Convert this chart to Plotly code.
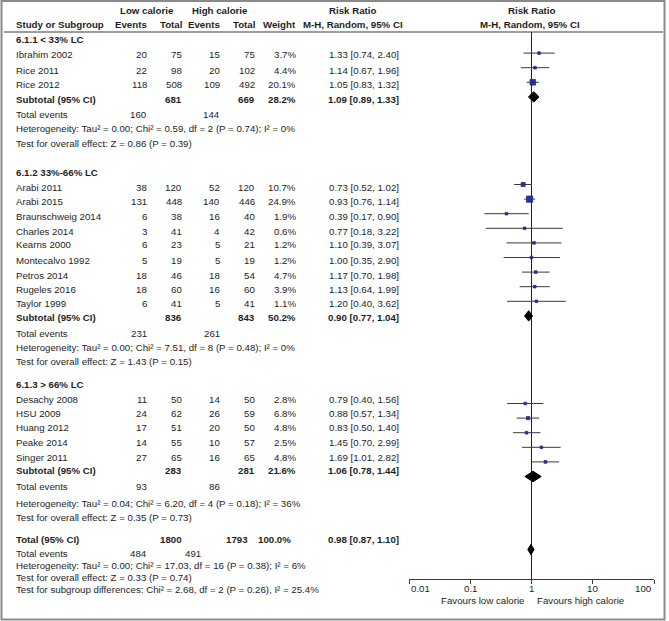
import math
import plotly.graph_objects as go

# ---------------- data ----------------
group_titles = ["6.1.1 < 33% LC", "6.1.2 33%-66% LC", "6.1.3 > 66% LC"]

g1_studies = ["Ibrahim 2002", "Rice 2011", "Rice 2012"]
g1_low_events = [20, 22, 118]
g1_low_total = [75, 98, 508]
g1_high_events = [15, 20, 109]
g1_high_total = [75, 102, 492]
g1_weight = [3.7, 4.4, 20.1]
g1_rr = [1.33, 1.14, 1.05]
g1_lo = [0.74, 0.67, 0.83]
g1_hi = [2.40, 1.96, 1.32]

g2_studies = ["Arabi 2011", "Arabi 2015", "Braunschweig 2014", "Charles 2014", "Kearns 2000",
              "Montecalvo 1992", "Petros 2014", "Rugeles 2016", "Taylor 1999"]
g2_low_events = [38, 131, 6, 3, 6, 5, 18, 18, 6]
g2_low_total = [120, 448, 38, 41, 23, 19, 46, 60, 41]
g2_high_events = [52, 140, 16, 4, 5, 5, 18, 16, 5]
g2_high_total = [120, 446, 40, 42, 21, 19, 54, 60, 41]
g2_weight = [10.7, 24.9, 1.9, 0.6, 1.2, 1.2, 4.7, 3.9, 1.1]
g2_rr = [0.73, 0.93, 0.39, 0.77, 1.10, 1.00, 1.17, 1.13, 1.20]
g2_lo = [0.52, 0.76, 0.17, 0.18, 0.39, 0.35, 0.70, 0.64, 0.40]
g2_hi = [1.02, 1.14, 0.90, 3.22, 3.07, 2.90, 1.98, 1.99, 3.62]

g3_studies = ["Desachy 2008", "HSU 2009", "Huang 2012", "Peake 2014", "Singer 2011"]
g3_low_events = [11, 24, 17, 14, 27]
g3_low_total = [50, 62, 51, 55, 65]
g3_high_events = [14, 26, 20, 10, 16]
g3_high_total = [50, 59, 50, 57, 65]
g3_weight = [2.8, 6.8, 4.8, 2.5, 4.8]
g3_rr = [0.79, 0.88, 0.83, 1.45, 1.69]
g3_lo = [0.40, 0.57, 0.50, 0.70, 1.01]
g3_hi = [1.56, 1.34, 1.40, 2.99, 2.82]

sub_low_total = [681, 836, 283]
sub_high_total = [669, 843, 281]
sub_weight = [28.2, 50.2, 21.6]
sub_rr = [1.09, 0.90, 1.06]
sub_lo = [0.89, 0.77, 0.78]
sub_hi = [1.33, 1.04, 1.44]
sub_low_events = [160, 231, 93]
sub_high_events = [144, 261, 86]
sub_het = ["Tau² = 0.00; Chi² = 0.59, df = 2 (P = 0.74); I² = 0%",
           "Tau² = 0.00; Chi² = 7.51, df = 8 (P = 0.48); I² = 0%",
           "Tau² = 0.04; Chi² = 6.20, df = 4 (P = 0.18); I² = 36%"]
sub_z = ["Z = 0.86 (P = 0.39)", "Z = 1.43 (P = 0.15)", "Z = 0.35 (P = 0.73)"]

total_low_total = 1800
total_high_total = 1793
total_weight = 100.0
total_rr, total_lo, total_hi = 0.98, 0.87, 1.10
total_low_events = 484
total_high_events = 491
total_het = "Tau² = 0.00; Chi² = 17.03, df = 16 (P = 0.38); I² = 6%"
total_z = "Z = 0.33 (P = 0.74)"
subgroup_test = "Chi² = 2.68, df = 2 (P = 0.26), I² = 25.4%"

axis_ticks = [0.01, 0.1, 1, 10, 100]
axis_tick_labels = ["0.01", "0.1", "1", "10", "100"]

groups = [
    (g1_studies, g1_low_events, g1_low_total, g1_high_events, g1_high_total, g1_weight, g1_rr, g1_lo, g1_hi),
    (g2_studies, g2_low_events, g2_low_total, g2_high_events, g2_high_total, g2_weight, g2_rr, g2_lo, g2_hi),
    (g3_studies, g3_low_events, g3_low_total, g3_high_events, g3_high_total, g3_weight, g3_rr, g3_lo, g3_hi),
]

# ---------------- layout constants (pixels) ----------------
W, H = 669, 621
FS = 9.7
FONT = "Arial, Liberation Sans, sans-serif"
TXT = "#1e1e1e"
LINE = "#3a3a3a"
SQ = "#27308f"

PLOT_TOP_PX = 38.5     # pixel of row index 0 in the plot panel
ROW_PX = 14.6          # pixel step per row in the plot panel
AXIS_PX = 579          # pixel of x-axis line
HEAD_LINE_PX = 32
X_LEFT_PX, X_RIGHT_PX = 409, 654

# text row pixel positions (the table is slightly tighter toward the bottom)
TEXT_Y = [40, 55, 70, 85, 99, 114, 128, 143, None,
          172, 187, 201, 216, 231, 245, 260, 275, 289, 304, 317, 333, 347, 361, None,
          384, 399, 413, 428, 442, 457, 470, 486, 503, 517, None,
          539, 553, 565, 577, 589]

COL_NAME = 14
COL_LE, COL_LT, COL_HE, COL_HT, COL_W, COL_RR = 149, 184, 222, 257, 298, 401

annotations = []


def px_x(p):
    return p / W


def px_y(p):
    return 1 - p / H


def txt(s, x, y, anchor="left", bold=False, size=FS):
    if bold:
        s = "<b>" + s + "</b>"
    annotations.append(dict(text=s, x=px_x(x), y=px_y(y), xref="paper", yref="paper",
                            xanchor=anchor, yanchor="middle", showarrow=False,
                            font=dict(family=FONT, size=size, color=TXT)))


def fmt_ci(r, lo, hi):
    return f"{r:.2f} [{lo:.2f}, {hi:.2f}]"


# headers
txt("Low calorie", 146.5, 11, "center", True)
txt("High calorie", 220, 11, "center", True)
txt("Risk Ratio", 352, 11, "center", True)
txt("Risk Ratio", 531, 11, "center", True)
txt("Study or Subgroup", COL_NAME, 25, "left", True)
txt("Events", COL_LE, 25, "right", True)
txt("Total", COL_LT, 25, "right", True)
txt("Events", COL_HE, 25, "right", True)
txt("Total", COL_HT, 25, "right", True)
txt("Weight", COL_W, 25, "right", True)
txt("M-H, Random, 95% CI", 353, 25, "center", True)
txt("M-H, Random, 95% CI", 530, 25, "center", True)

# marks
ci_x, ci_y = [], []
sq_x, sq_y, sq_s = [], [], []
diamonds = []

row = 0
for gi, g in enumerate(groups):
    names, le, lt, he, ht, wt, rr, lo, hi = g
    txt(group_titles[gi], COL_NAME, TEXT_Y[row], "left", True)
    row += 1
    for k in range(len(names)):
        y = TEXT_Y[row]
        txt(names[k], COL_NAME, y)
        txt(str(le[k]), COL_LE, y, "right")
        txt(str(lt[k]), COL_LT, y, "right")
        txt(str(he[k]), COL_HE, y, "right")
        txt(str(ht[k]), COL_HT, y, "right")
        txt(f"{wt[k]:.1f}%", COL_W, y, "right")
        txt(fmt_ci(rr[k], lo[k], hi[k]), COL_RR, y, "right")
        ci_x += [lo[k], hi[k], None]
        ci_y += [row, row, None]
        sq_x.append(rr[k])
        sq_y.append(row)
        sq_s.append(max(2.6, 1.25 * math.sqrt(wt[k])))
        row += 1
    y = TEXT_Y[row]
    txt("Subtotal (95% CI)", COL_NAME, y, "left", True)
    txt(str(sub_low_total[gi]), COL_LT, y, "right", True)
    txt(str(sub_high_total[gi]), COL_HT, y, "right", True)
    txt(f"{sub_weight[gi]:.1f}%", COL_W, y, "right", True)
    txt(fmt_ci(sub_rr[gi], sub_lo[gi], sub_hi[gi]), COL_RR, y, "right", True)
    diamonds.append((row, sub_rr[gi], sub_lo[gi], sub_hi[gi]))
    row += 1
    y = TEXT_Y[row]
    txt("Total events", COL_NAME, y)
    txt(str(sub_low_events[gi]), COL_LE, y, "right")
    txt(str(sub_high_events[gi]), COL_HE, y, "right")
    row += 1
    txt("Heterogeneity: " + sub_het[gi], COL_NAME, TEXT_Y[row])
    row += 1
    txt("Test for overall effect: " + sub_z[gi], COL_NAME, TEXT_Y[row])
    row += 2

y = TEXT_Y[row]
txt("Total (95% CI)", COL_NAME, y, "left", True)
txt(str(total_low_total), COL_LT, y, "right", True)
txt(str(total_high_total), 250, y, "right", True)
txt(f"{total_weight:.1f}%", 293, y, "right", True)
txt(fmt_ci(total_rr, total_lo, total_hi), COL_RR, y, "right", True)
diamonds.append((row, total_rr, total_lo, total_hi))
row += 1
y = TEXT_Y[row]
txt("Total events", COL_NAME, y)
txt(str(total_low_events), COL_LE, y, "right")
txt(str(total_high_events), 203, y, "right")
row += 1
txt("Heterogeneity: " + total_het, COL_NAME, TEXT_Y[row])
row += 1
txt("Test for overall effect: " + total_z, COL_NAME, TEXT_Y[row])
row += 1
txt("Test for subgroup differences: " + subgroup_test, COL_NAME, TEXT_Y[row])

fig = go.Figure()

# reference line at RR = 1 from header rule down to axis
y_top_row = (HEAD_LINE_PX - PLOT_TOP_PX) / ROW_PX
y_bot_row = (AXIS_PX - PLOT_TOP_PX) / ROW_PX
fig.add_trace(go.Scatter(x=[1, 1], y=[y_top_row, y_bot_row], mode="lines",
                         line=dict(color="#222222", width=1), hoverinfo="skip", showlegend=False,
                         cliponaxis=False))

fig.add_trace(go.Scatter(x=ci_x, y=ci_y, mode="lines", line=dict(color=LINE, width=1),
                         hoverinfo="skip", showlegend=False))
fig.add_trace(go.Scatter(x=sq_x, y=sq_y, mode="markers",
                         marker=dict(symbol="square", size=sq_s, color=SQ, opacity=1,
                                     line=dict(width=0.8, color=SQ)),
                         showlegend=False))

DH = 5.2 / ROW_PX  # diamond half height in rows
for (r, est, lo, hi) in diamonds:
    fig.add_trace(go.Scatter(x=[lo, est, hi, est, lo], y=[r, r - DH, r, r + DH, r],
                             mode="lines", fill="toself", fillcolor="#000000",
                             line=dict(color="#000000", width=1), showlegend=False,
                             hoverinfo="skip"))

# axis tick labels
for v, lab in zip(axis_ticks, axis_tick_labels):
    anchor = "left" if v == axis_ticks[0] else ("right" if v == axis_ticks[-1] else "center")
    annotations.append(dict(text=lab, x=math.log10(v), y=px_y(588), xref="x", yref="paper",
                            xanchor=anchor, yanchor="middle", showarrow=False,
                            font=dict(family=FONT, size=FS, color=TXT)))
annotations.append(dict(text="Favours low calorie", x=0, xshift=-6, y=px_y(600), xref="x",
                        yref="paper", xanchor="right", yanchor="middle", showarrow=False,
                        font=dict(family=FONT, size=FS, color=TXT)))
annotations.append(dict(text="Favours high calorie", x=0, xshift=3, y=px_y(600), xref="x",
                        yref="paper", xanchor="left", yanchor="middle", showarrow=False,
                        font=dict(family=FONT, size=FS, color=TXT)))

shapes = [
    dict(type="line", xref="paper", yref="paper", x0=px_x(4), x1=px_x(663),
         y0=px_y(HEAD_LINE_PX), y1=px_y(HEAD_LINE_PX), line=dict(color="#3a3a3a", width=1)),
    dict(type="rect", xref="paper", yref="paper", x0=px_x(1.5), x1=px_x(664.5),
         y0=px_y(619.5), y1=px_y(1), line=dict(color="#8a8a8a", width=2)),
]

fig.update_layout(
    width=W, height=H,
    margin=dict(l=0, r=0, t=0, b=0),
    paper_bgcolor="white", plot_bgcolor="white",
    showlegend=False,
    annotations=annotations,
    shapes=shapes,
    xaxis=dict(type="log", range=[-2, 2], domain=[px_x(X_LEFT_PX), px_x(X_RIGHT_PX)],
               showgrid=False, zeroline=False, showline=True, linecolor="#3a3a3a", linewidth=1,
               ticks="outside", ticklen=4, tickcolor="#3a3a3a", tickvals=axis_ticks,
               showticklabels=False, fixedrange=True),
    yaxis=dict(range=[y_bot_row, -PLOT_TOP_PX / ROW_PX], domain=[1 - AXIS_PX / H, 1],
               visible=False, fixedrange=True),
)

fig.write_html("out.html", config={"displayModeBar": False},
               post_script="document.body.style.margin='0px';document.body.style.overflow='hidden';")
